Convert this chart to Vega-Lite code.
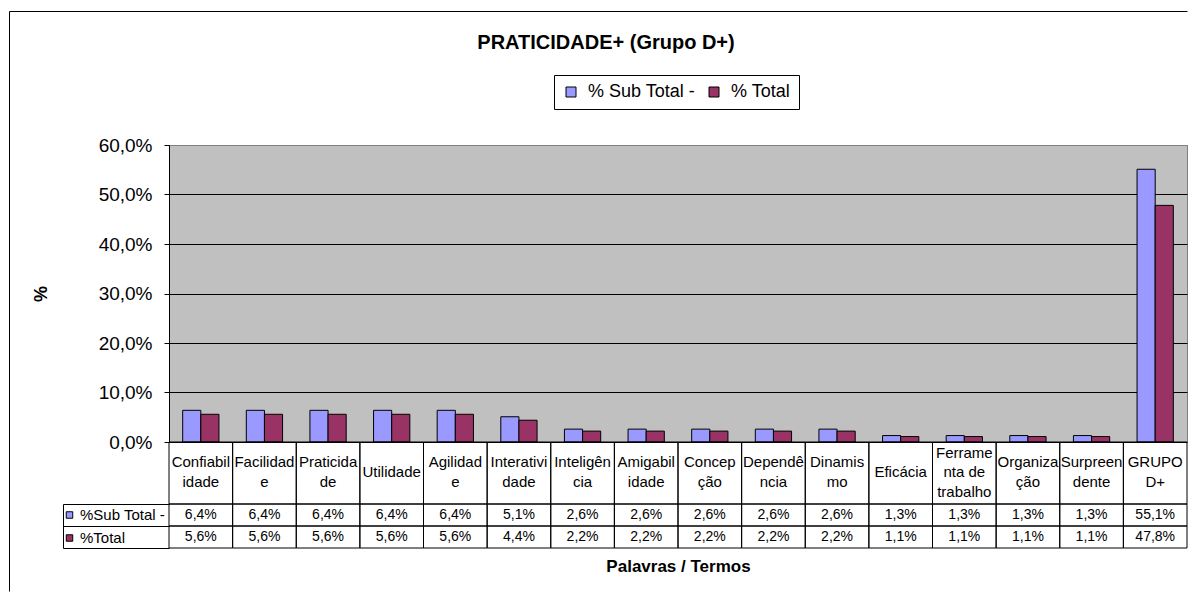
{
  "$schema": "https://vega.github.io/schema/vega-lite/v6.json",
  "padding": {"left": 8, "top": 10, "right": 0, "bottom": 0},
  "background": "white",
  "config": {
    "locale": {"number": {"decimal": ",", "thousands": ".", "grouping": [3], "currency": ["R$", ""]}},
    "font": "Liberation Sans",
    "view": {"stroke": null}
  },
  "data": {
    "values": [
      {"termo": "Confiabilidade", "rotulo": ["Confiabil", "idade"], "sub": 0.064, "total": 0.056},
      {"termo": "Facilidade", "rotulo": ["Facilidad", "e"], "sub": 0.064, "total": 0.056},
      {"termo": "Praticidade", "rotulo": ["Praticida", "de"], "sub": 0.064, "total": 0.056},
      {"termo": "Utilidade", "rotulo": ["Utilidade"], "sub": 0.064, "total": 0.056},
      {"termo": "Agilidade", "rotulo": ["Agilidad", "e"], "sub": 0.064, "total": 0.056},
      {"termo": "Interatividade", "rotulo": ["Interativi", "dade"], "sub": 0.051, "total": 0.044},
      {"termo": "Inteligência", "rotulo": ["Inteligên", "cia"], "sub": 0.026, "total": 0.022},
      {"termo": "Amigabilidade", "rotulo": ["Amigabil", "idade"], "sub": 0.026, "total": 0.022},
      {"termo": "Concepção", "rotulo": ["Concep", "ção"], "sub": 0.026, "total": 0.022},
      {"termo": "Dependência", "rotulo": ["Dependê", "ncia"], "sub": 0.026, "total": 0.022},
      {"termo": "Dinamismo", "rotulo": ["Dinamis", "mo"], "sub": 0.026, "total": 0.022},
      {"termo": "Eficácia", "rotulo": ["Eficácia"], "sub": 0.013, "total": 0.011},
      {"termo": "Ferramenta de trabalho", "rotulo": ["Ferrame", "nta de", "trabalho"], "sub": 0.013, "total": 0.011},
      {"termo": "Organização", "rotulo": ["Organiza", "ção"], "sub": 0.013, "total": 0.011},
      {"termo": "Surpreendente", "rotulo": ["Surpreen", "dente"], "sub": 0.013, "total": 0.011},
      {"termo": "GRUPO D+", "rotulo": ["GRUPO", "D+"], "sub": 0.551, "total": 0.478}
    ]
  },
  "title": {"text": "PRATICIDADE+ (Grupo D+)", "fontSize": 20, "fontWeight": "bold", "offset": 0, "dy": 42, "dx": -72, "anchor": "middle", "color": "black"},
  "spacing": 0,
  "bounds": "flush",
  "resolve": {"scale": {"x": "independent", "y": "independent", "color": "independent"}, "legend": {"color": "independent"}},
  "vconcat": [
    {
      "width": 1018, "height": 297,
      "view": {"fill": "#C0C0C0", "stroke": "#808080"},
      "transform": [{"fold": ["sub", "total"], "as": ["serie", "valor"]}],
      "resolve": {"scale": {"x": "independent", "y": "independent"}, "axis": {"x": "independent", "y": "independent"}},
      "layer": [
        {
          "mark": {"type": "bar", "stroke": "black", "strokeWidth": 1},
          "encoding": {
            "x": {"field": "termo", "type": "nominal", "sort": null,
                  "scale": {"paddingInner": 0.43, "paddingOuter": 0.215},
                  "axis": null},
            "xOffset": {"field": "serie", "type": "nominal", "sort": ["sub", "total"], "scale": {"paddingInner": 0, "paddingOuter": 0}},
            "y": {"field": "valor", "type": "quantitative",
                  "scale": {"domain": [0, 0.6], "nice": false},
                  "axis": {"orient": "left", "title": "%", "titleFontSize": 18, "titleFontWeight": "bold", "titleColor": "black", "titlePadding": 48,
                           "values": [0, 0.1, 0.2, 0.3, 0.4, 0.5, 0.6], "format": ".1%",
                           "labelFontSize": 19, "labelColor": "black", "labelPadding": 12,
                           "tickColor": "black", "tickSize": 5, "domainColor": "black",
                           "grid": true, "gridOpacity": 1,
                           "gridColor": {"condition": {"test": "datum.value >= 0.59", "value": "#808080"}, "value": "black"}}},
            "color": {"field": "serie", "type": "nominal",
                      "scale": {"domain": ["sub", "total"], "range": ["#9999FF", "#993366"]},
                      "legend": {"orient": "none", "legendX": 385, "legendY": -70, "direction": "horizontal", "title": null,
                                 "symbolType": "square", "symbolSize": 100, "symbolStrokeColor": "black", "symbolStrokeWidth": 1,
                                 "labelFontSize": 18, "labelColor": "black", "labelOffset": 8, "columnPadding": 9,
                                 "padding": 8, "strokeColor": "black", "fillColor": "white",
                                 "labelExpr": "datum.label == 'sub' ? '% Sub Total -' : '% Total'"}}
          }
        },
        {
          "mark": {"type": "point", "opacity": 0},
          "encoding": {
            "x": {"field": "valor", "type": "quantitative",
                  "scale": {"domain": [0, 1], "range": [-160, 1018]},
                  "axis": {"orient": "top", "offset": 134, "labels": false, "ticks": false, "grid": false, "title": null, "domainColor": "black"}},
            "y": {"field": "valor", "type": "quantitative",
                  "scale": {"domain": [0, 1], "range": [446, -134]},
                  "axis": {"orient": "left", "offset": 160, "labels": false, "ticks": false, "grid": false, "title": null, "domainColor": "black", "minExtent": 0}}
          }
        }
      ]
    },
    {
      "width": 1018, "height": 62,
      "layer": [
        {
          "mark": {"type": "rect", "filled": false, "stroke": "black", "strokeWidth": 1},
          "encoding": {
            "x": {"field": "termo", "type": "nominal", "sort": null,
                  "scale": {"paddingInner": 0, "paddingOuter": 0}, "axis": null}
          }
        },
        {
          "mark": {"type": "text", "fontSize": 15, "lineHeight": 19.5, "color": "black", "baseline": "middle",
                   "dy": {"expr": "-(length(datum.rotulo) - 1) * 9.75 - 1"}},
          "encoding": {
            "x": {"field": "termo", "type": "nominal", "sort": null, "axis": null},
            "text": {"field": "rotulo"}
          }
        }
      ]
    },
    {
      "width": 1018, "height": 44,
      "transform": [{"fold": ["sub", "total"], "as": ["serie", "valor"]}],
      "layer": [
        {
          "mark": {"type": "rect", "filled": false, "stroke": "black", "strokeWidth": 1},
          "encoding": {
            "x": {"field": "termo", "type": "nominal", "sort": null,
                  "scale": {"paddingInner": 0, "paddingOuter": 0},
                  "axis": {"labels": false, "ticks": false, "domain": false, "grid": false, "title": "Palavras / Termos",
                           "titleFontSize": 17, "titleFontWeight": "bold", "titleColor": "black", "titlePadding": 10}},
            "y": {"field": "serie", "type": "nominal", "sort": ["sub", "total"],
                  "scale": {"domain": ["sub", "total"], "paddingInner": 0, "paddingOuter": 0},
                  "axis": {"title": null, "labels": false, "domain": true, "domainColor": "black", "offset": 106,
                           "ticks": true, "tickSize": -106, "tickColor": "black", "bandPosition": 1, "tickExtra": true, "grid": false, "minExtent": 0}}
          }
        },
        {
          "mark": {"type": "text", "fontSize": 14, "color": "black", "baseline": "middle"},
          "encoding": {
            "x": {"field": "termo", "type": "nominal", "sort": null},
            "y": {"field": "serie", "type": "nominal", "sort": ["sub", "total"]},
            "text": {"field": "valor", "type": "quantitative", "format": ".1%"}
          }
        },
        {
          "mark": {"type": "square", "opacity": 0, "filled": true},
          "encoding": {
            "x": {"field": "termo", "type": "nominal", "sort": null},
            "y": {"field": "serie", "type": "nominal", "sort": ["sub", "total"]},
            "color": {"field": "serie", "type": "nominal",
                      "scale": {"domain": ["sub", "total"], "range": ["#9999FF", "#993366"]},
                      "legend": {"orient": "none", "legendX": -107, "legendY": 3.5, "title": null,
                                 "symbolType": "square", "symbolSize": 42, "symbolStrokeColor": "black", "symbolStrokeWidth": 1, "symbolOpacity": 1,
                                 "labelFontSize": 15, "labelColor": "black", "labelOffset": 3, "rowPadding": 7, "padding": 0,
                                 "labelExpr": "datum.label == 'sub' ? '%Sub Total -' : '%Total'"}}
          }
        }
      ]
    }
  ]
}
